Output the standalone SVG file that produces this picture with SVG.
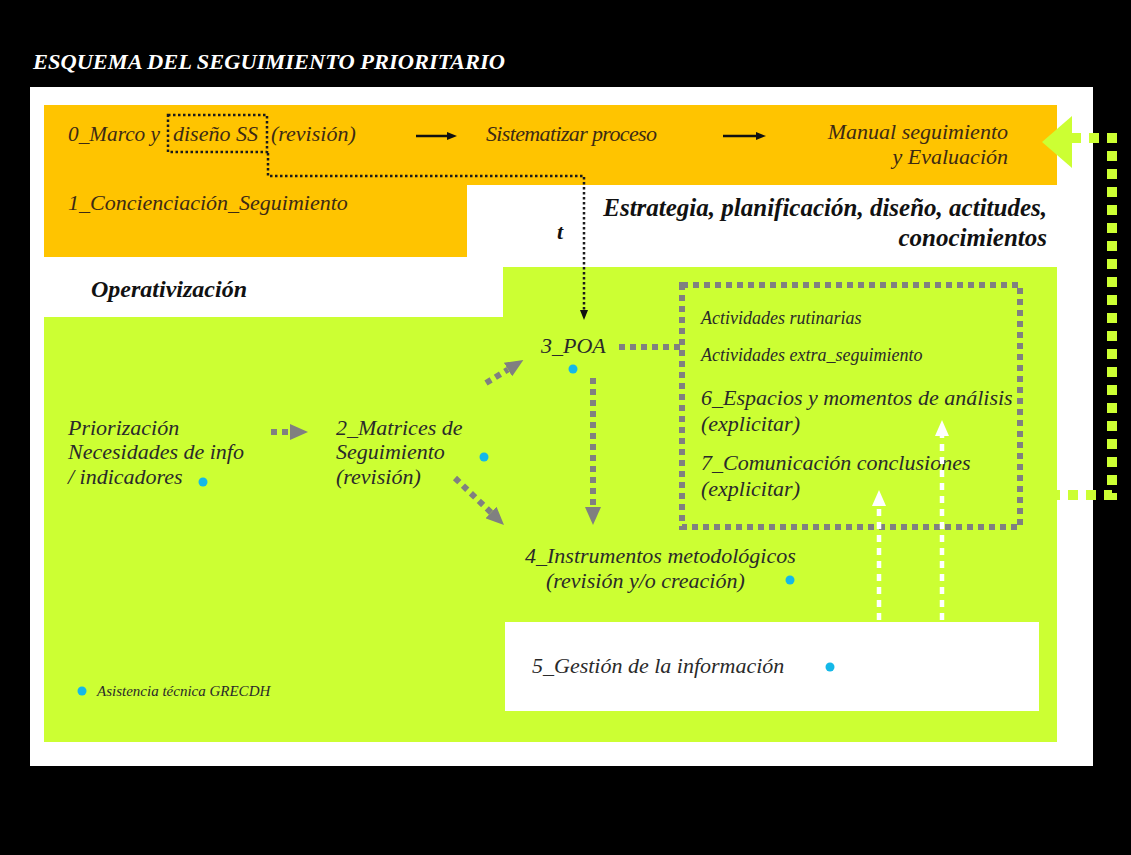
<svg xmlns="http://www.w3.org/2000/svg" width="1131" height="855" viewBox="0 0 1131 855">
<style>
.lbl{font-family:"Liberation Serif","Times New Roman",serif;font-style:italic;font-size:22px;fill:#2a2a2a}
.org{fill:#3d2a14}
.sm{font-size:18px}
.xs{font-size:15px}
.hdr{font-family:"Liberation Serif","Times New Roman",serif;font-style:italic;font-weight:bold;fill:#111}
.gray{fill:none;stroke:#808080;stroke-width:6;stroke-dasharray:6 5}
.wht{fill:none;stroke:#ffffff;stroke-width:4.5;stroke-dasharray:7 6}
.blk{fill:none;stroke:#1a1a1a;stroke-width:2.5;stroke-dasharray:2.5 2.5}
.dot{fill:#14b8e8}
</style>
<defs>
<marker id="mg" markerUnits="userSpaceOnUse" markerWidth="18" markerHeight="16" refX="0" refY="8" orient="auto"><path d="M0,0 L18,8 L0,16 z" fill="#808080"/></marker>
<marker id="mw" markerUnits="userSpaceOnUse" markerWidth="16" markerHeight="14" refX="0" refY="7" orient="auto"><path d="M0,0 L16,7 L0,14 z" fill="#ffffff"/></marker>
<marker id="mb" markerUnits="userSpaceOnUse" markerWidth="10" markerHeight="8" refX="0" refY="4" orient="auto"><path d="M0,0 L10,4 L0,8 z" fill="#111"/></marker>
</defs>
<rect x="0" y="0" width="1131" height="855" fill="#000"/>
<text x="33" y="69" class="hdr" font-size="22" style="fill:#fff" textLength="472" lengthAdjust="spacingAndGlyphs">ESQUEMA DEL SEGUIMIENTO PRIORITARIO</text>
<rect x="30" y="87" width="1063" height="679" fill="#fff"/>
<g id="orange-area">
<polygon points="44,105 1057,105 1057,185 467,185 467,257 44,257" fill="#ffc400"/>
</g>
<g id="green-area">
<polygon points="44,317 503,317 503,267 1057,267 1057,742 44,742" fill="#ccff33"/>
</g>
<g id="n0">
<text x="68" y="141" class="lbl org" textLength="92" lengthAdjust="spacingAndGlyphs">0_Marco y</text>
<rect x="168" y="115" width="99" height="37" class="blk"/>
<text x="173" y="141" class="lbl org">diseño SS</text>
<text x="271" y="141" class="lbl org">(revisión)</text>
</g>
<g id="n-sistematizar"><text x="486" y="141" class="lbl org" textLength="171">Sistematizar proceso</text></g>
<g id="n-manual">
<text x="1008" y="139" text-anchor="end" class="lbl org">Manual seguimiento</text>
<text x="1008" y="164" text-anchor="end" class="lbl org">y Evaluación</text>
</g>
<g id="n1"><text x="68" y="210" class="lbl org">1_Concienciación_Seguimiento</text></g>
<g id="n-estrategia">
<text x="1047" y="216" text-anchor="end" class="hdr" font-size="25">Estrategia, planificación, diseño, actitudes,</text>
<text x="1047" y="246" text-anchor="end" class="hdr" font-size="25">conocimientos</text>
</g>
<g id="n-t"><text x="557" y="239" class="hdr" font-size="22">t</text></g>
<g id="n-operativizacion"><text x="91" y="297" class="hdr" font-size="24">Operativización</text></g>
<g id="n-priorizacion">
<text x="68" y="435" class="lbl">Priorización</text>
<text x="68" y="459" class="lbl">Necesidades de info</text>
<text x="68" y="484" class="lbl">/ indicadores</text>
<circle cx="203" cy="482" r="4.5" class="dot"/>
</g>
<g id="n2">
<text x="336" y="435" class="lbl">2_Matrices de</text>
<text x="336" y="459" class="lbl">Seguimiento</text>
<text x="336" y="484" class="lbl">(revisión)</text>
<circle cx="484" cy="457" r="4.5" class="dot"/>
</g>
<g id="n3">
<text x="541" y="353" class="lbl">3_POA</text>
<circle cx="573" cy="369" r="4.5" class="dot"/>
</g>
<g id="n-actividades">
<rect x="682" y="285" width="338" height="242" class="gray"/>
<text x="701" y="324" class="lbl sm">Actividades rutinarias</text>
<text x="701" y="361" class="lbl sm">Actividades extra_seguimiento</text>
<text x="701" y="405" class="lbl">6_Espacios y momentos de análisis</text>
<text x="701" y="431" class="lbl">(explicitar)</text>
<text x="701" y="470" class="lbl">7_Comunicación conclusiones</text>
<text x="701" y="496" class="lbl">(explicitar)</text>
</g>
<g id="n4">
<text x="525" y="563" class="lbl">4_Instrumentos metodológicos</text>
<text x="546" y="588" class="lbl">(revisión y/o creación)</text>
<circle cx="790" cy="580" r="4.5" class="dot"/>
</g>
<g id="n5">
<rect x="505" y="622" width="534" height="89" fill="#fff"/>
<text x="532" y="673" class="lbl">5_Gestión de la información</text>
<circle cx="830" cy="667" r="4.5" class="dot"/>
</g>
<g id="legend">
<circle cx="82" cy="691" r="4.5" class="dot"/>
<text x="97" y="696" class="lbl xs">Asistencia técnica GRECDH</text>
</g>
<g id="connectors">
<line x1="416" y1="136" x2="447" y2="136" stroke="#111" stroke-width="2.5" marker-end="url(#mb)"/>
<line x1="723" y1="136" x2="756" y2="136" stroke="#111" stroke-width="2.5" marker-end="url(#mb)"/>
<path d="M268,153 V176 H584 V310" class="blk" marker-end="url(#mb)"/>
<line x1="271" y1="432" x2="290" y2="432" class="gray" marker-end="url(#mg)"/>
<line x1="486" y1="383" x2="508" y2="369.5" class="gray" marker-end="url(#mg)"/>
<line x1="455" y1="478" x2="491" y2="512.5" class="gray" marker-end="url(#mg)"/>
<line x1="593" y1="378" x2="593" y2="507" class="gray" marker-end="url(#mg)"/>
<line x1="619" y1="347" x2="682" y2="347" class="gray"/>
<line x1="879" y1="620" x2="879" y2="506" class="wht" marker-end="url(#mw)"/>
<line x1="942" y1="620" x2="942" y2="436" class="wht" marker-end="url(#mw)"/>
<path d="M1050,495 H1112 V138 H1072" fill="none" stroke="#ccff33" stroke-width="10" stroke-dasharray="10 8"/>
<polygon points="1042,142 1072,116 1072,168" fill="#ccff33"/>
</g>
</svg>
